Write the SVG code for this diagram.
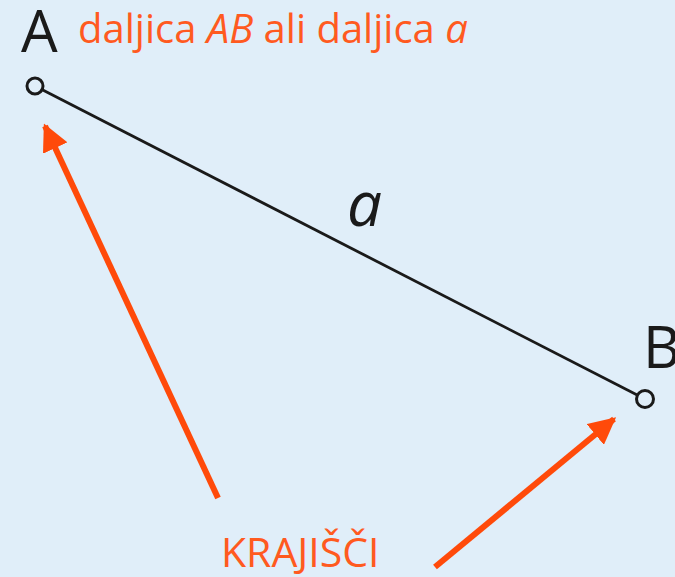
<svg xmlns="http://www.w3.org/2000/svg" width="675" height="577" viewBox="0 0 675 577">
<style>
.lbl{font-family:"Open Sans","Noto Sans",sans-serif;fill:#1a1a1a}
.or{font-family:"Open Sans","Noto Sans",sans-serif;fill:#ff5a1f}
.arr{stroke:#ff4a0a;stroke-width:6;fill:none}
.pt{fill:#e0eef9;stroke:#1a1a1a;stroke-width:3}
</style>
<defs>
<marker id="ah" viewBox="0 0 10 10" refX="9" refY="5" markerWidth="4.5" markerHeight="4.5" orient="auto" markerUnits="strokeWidth">
<path d="M0,0 L10,5 L0,10 z" fill="#ff4a0a"/>
</marker>
</defs>
<rect width="675" height="577" fill="#e0eef9"/>
<g id="connectors">
<line x1="35" y1="86" x2="645" y2="399" stroke="#1a1a1a" stroke-width="2.8"/>
<line class="arr" x1="218" y1="498" x2="45" y2="126" marker-end="url(#ah)"/>
<line class="arr" x1="435" y1="567" x2="614" y2="419" marker-end="url(#ah)"/>
</g>
<g id="pointA">
<circle class="pt" cx="35" cy="86" r="8"/>
<text class="lbl" x="21" y="52" font-size="58">A</text>
</g>
<g id="pointB">
<circle class="pt" cx="645" cy="399" r="8.5"/>
<text class="lbl" x="643" y="368" font-size="58">B</text>
</g>
<g id="title">
<text class="or" x="78" y="43" font-size="40">daljica <tspan font-style="italic">AB</tspan> ali daljica <tspan font-style="italic">a</tspan></text>
</g>
<g id="segmentLabel">
<text class="lbl" x="347" y="226" font-size="62" font-style="italic">a</text>
</g>
<g id="krajisci">
<text class="or" x="221" y="567" font-size="41">KRAJIŠČI</text>
</g>
</svg>
